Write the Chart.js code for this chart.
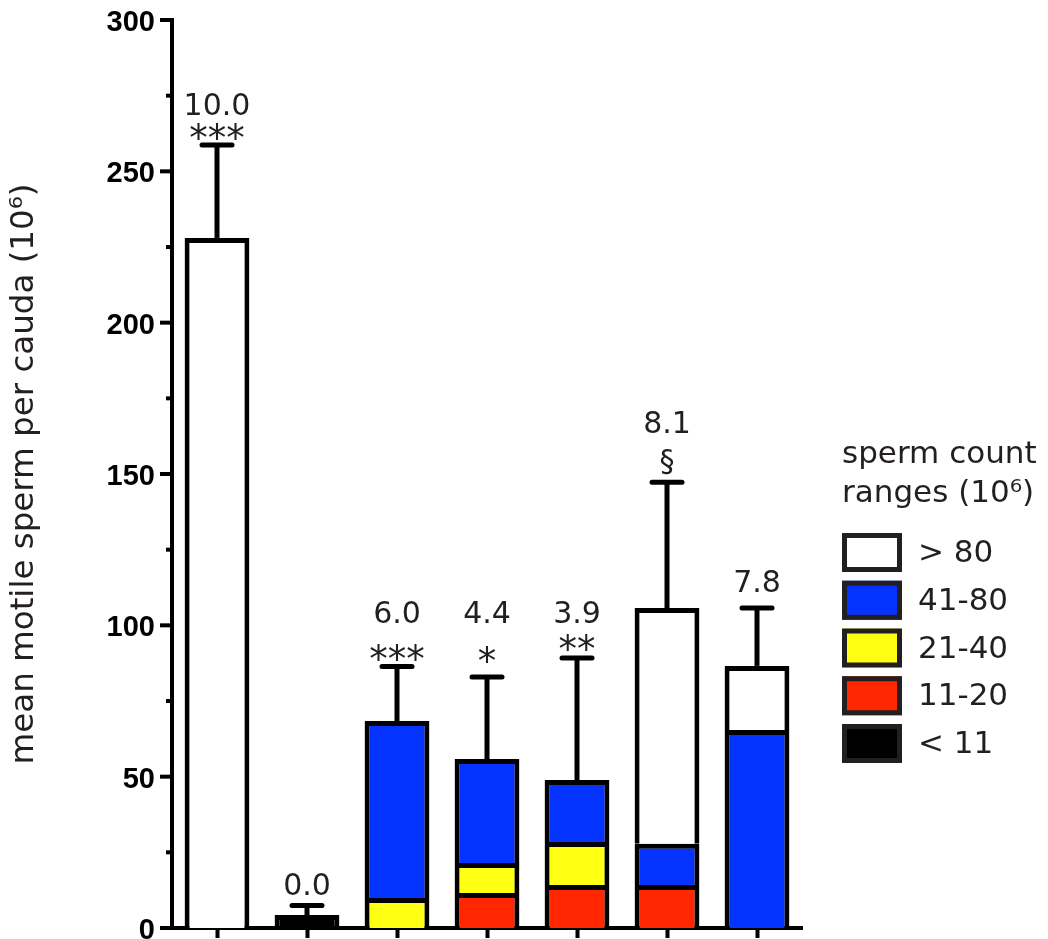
<!DOCTYPE html>
<html><head><meta charset="utf-8">
<script src="https://cdn.jsdelivr.net/npm/chart.js@4/dist/chart.umd.min.js"></script>
<style>html,body{margin:0;padding:0;background:#fff}#wrap{width:1048px;height:939px}</style>
</head><body><div id="wrap"><canvas id="c" width="1048" height="939"></canvas></div>
<script>
// ---- data ----
const categories = ['1', '2', '3', '4', '5', '6', '7'];
const rangeLabels = ['< 11', '11-20', '21-40', '41-80', '> 80'];
const lt11   = [null, 4.3, null, null, null, null, null];
const r11_20 = [null, null, null, 11.6, 14.2, 14.2, null];
const r21_40 = [null, null, 9.9, 9.9, 14.2, null, null];
const r41_80 = [null, null, 58.5, 34.3, 20.5, 13.6, 65.4];
const gt80   = [228, null, null, null, null, 77.9, 21.2];
const errorTop = [258.7, 7.4, 86.4, 82.9, 89.2, 147.3, 105.7];
const meanLabels = ['10.0', '0.0', '6.0', '4.4', '3.9', '8.1', '7.8'];
const sigLabels = ['***', '', '***', '*', '**', '§', ''];
const yTickLabels = [0, 50, 100, 150, 200, 250, 300];

// ---- styles / positions (not data) ----
const colors = ['#000000', '#ff2600', '#ffff14', '#0433ff', '#ffffff'];
const textColor = '#231f20';
const annot = {
  meanBaseline: [268.6, 10.9, 100.8, 100.8, 100.8, 163.5, 111],
  sigBaseline:  [256.7, null, 84.6, 83.9, 87.9, 151, null]
};

const seriesList = [lt11, r11_20, r21_40, r41_80, gt80];
const datasets = seriesList.map((d, i) => ({
  label: rangeLabels[i],
  data: d,
  backgroundColor: colors[i],
  borderColor: '#000',
  borderWidth: 5,
  borderSkipped: 'start',
  barPercentage: 0.72,
  categoryPercentage: 1.0
}));

const extrasPlugin = {
  id: 'extras',
  afterDatasetsDraw(chart) {
    const ctx = chart.ctx;
    const xs = chart.scales.x, ys = chart.scales.y;
    const area = chart.chartArea;
    ctx.save();
    // y tick marks (major/minor)
    ctx.strokeStyle = '#000';
    ctx.lineWidth = 4;
    ctx.lineCap = 'butt';
    ys.ticks.forEach(t => {
      const y = ys.getPixelForValue(t.value);
      const len = (t.value % 50 === 0) ? 12 : 6;
      ctx.beginPath();
      ctx.moveTo(area.left - len, y);
      ctx.lineTo(area.left, y);
      ctx.stroke();
    });
    // error bars
    categories.forEach((c, i) => {
      let sum = 0;
      seriesList.forEach(s => { sum += (s[i] || 0); });
      const x = xs.getPixelForValue(i);
      const yTop = ys.getPixelForValue(sum);
      const yErr = ys.getPixelForValue(errorTop[i]);
      ctx.lineWidth = 5;
      ctx.lineCap = 'butt';
      ctx.beginPath();
      ctx.moveTo(x, yTop);
      ctx.lineTo(x, yErr);
      ctx.stroke();
      ctx.lineCap = 'round';
      ctx.beginPath();
      ctx.moveTo(x - 15, yErr);
      ctx.lineTo(x + 15, yErr);
      ctx.stroke();
      // labels
      ctx.fillStyle = textColor;
      ctx.textAlign = 'center';
      ctx.textBaseline = 'alphabetic';
      ctx.font = '30px "DejaVu Sans"';
      ctx.fillText(meanLabels[i], x, ys.getPixelForValue(annot.meanBaseline[i]));
      if (sigLabels[i]) {
        ctx.font = sigLabels[i].includes('*') ? '37px "DejaVu Sans"' : '30px "DejaVu Sans"';
        ctx.fillText(sigLabels[i], x, ys.getPixelForValue(annot.sigBaseline[i]));
      }
    });
    // legend
    const lx = 842;
    ctx.fillStyle = textColor;
    ctx.textAlign = 'left';
    ctx.font = '31px "DejaVu Sans"';
    ctx.fillText('sperm count', lx, 463);
    ctx.fillText('ranges (10⁶)', lx, 502);
    const items = chart.data.datasets.slice().reverse();
    items.forEach((ds, k) => {
      const base = 562 + k * 47.75;
      const top = base - 29;
      ctx.fillStyle = ds.backgroundColor;
      ctx.fillRect(lx, top, 60, 39);
      ctx.strokeStyle = '#231f20';
      ctx.lineWidth = 5;
      ctx.strokeRect(lx + 2.5, top + 2.5, 55, 34);
      ctx.fillStyle = textColor;
      ctx.fillText(ds.label, 918, base);
    });
    ctx.restore();
  }
};

function zeroPad(s) { s.paddingTop = 0; s.paddingBottom = 0; s.paddingLeft = 0; s.paddingRight = 0; }

new Chart(document.getElementById('c'), {
  type: 'bar',
  data: { labels: categories, datasets },
  options: {
    responsive: false,
    animation: false,
    layout: { padding: { left: 0, top: 20, right: 246, bottom: 0 } },
    plugins: { legend: { display: false }, tooltip: { enabled: false } },
    scales: {
      x: {
        stacked: true,
        grid: { display: true, drawOnChartArea: false, drawTicks: true, tickLength: 10, tickWidth: 4, tickColor: '#000', offset: false },
        border: { display: true, color: '#000', width: 4 },
        ticks: { display: false },
        afterFit(s) { s.height = 11; zeroPad(s); }
      },
      y: {
        stacked: true,
        min: 0, max: 300,
        grid: { display: false, drawTicks: false },
        border: { display: true, color: '#000', width: 4 },
        ticks: {
          stepSize: 25,
          padding: 17,
          labelOffset: 3,
          color: '#000',
          font: { family: '"Liberation Sans", Arial', size: 29, weight: 'bold' },
          callback: v => yTickLabels.includes(v) ? String(v) : ''
        },
        title: {
          display: true,
          text: 'mean motile sperm per cauda (10⁶)',
          color: textColor,
          font: { family: '"DejaVu Sans"', size: 32.5 },
          padding: { top: 5, bottom: 0 }
        },
        afterFit(s) { s.width = 172; zeroPad(s); }
      }
    }
  },
  plugins: [extrasPlugin]
});
</script>
</body></html>
